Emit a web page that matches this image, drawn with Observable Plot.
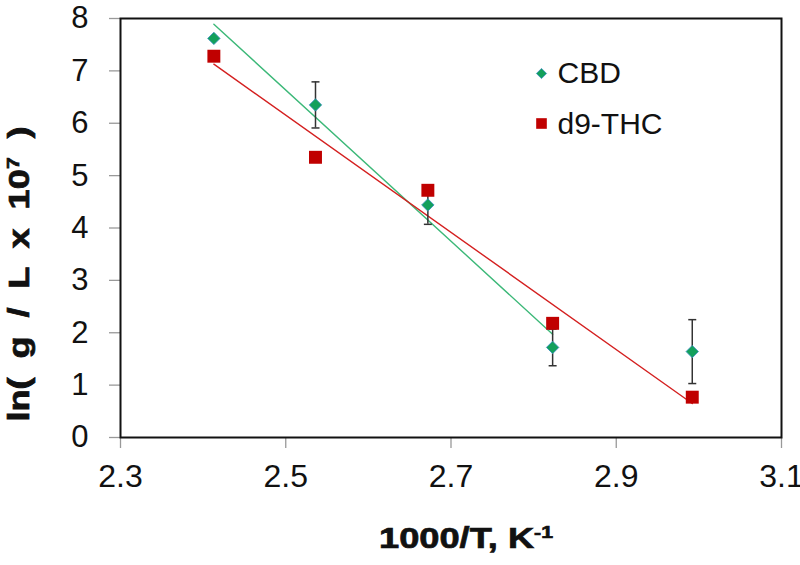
<!DOCTYPE html>
<html>
<head>
<meta charset="utf-8">
<script src="https://cdn.jsdelivr.net/npm/d3@7"></script>
<script src="https://cdn.jsdelivr.net/npm/@observablehq/plot@0.6"></script>
<style>
  html, body { margin: 0; padding: 0; background: #fff; }
  #chart { position: relative; width: 800px; height: 565px; overflow: hidden; }
</style>
</head>
<body>
<div id="chart"></div>
<script>
// ---- data ----
const xTicks = [2.3, 2.5, 2.7, 2.9, 3.1];
const yTicks = [0, 1, 2, 3, 4, 5, 6, 7, 8];
const invT = [2.413, 2.536, 2.672, 2.823, 2.992];          // 1000/T, K^-1
const cbd = [7.62, 6.35, 4.44, 1.72, 1.64];                 // CBD ln(g/L x 10^7)
const cbdErr = [0, 0.44, 0.37, 0.35, 0.61];                 // CBD error half-widths
const thc = [7.28, 5.35, 4.72, 2.18, 0.77];                 // d9-THC ln(g/L x 10^7)
const cbdFitPoints = 4;                                     // CBD trend fitted on first 4 points
const seriesNames = ["CBD", "d9-THC"];

const cbdRows = invT.map((t, i) => ({t, v: cbd[i], e: cbdErr[i]}));
const thcRows = invT.map((t, i) => ({t, v: thc[i]}));
const cbdFit = cbdRows.slice(0, cbdFitPoints);
const errRows = cbdRows.filter(d => d.e > 0);

const green = "#13a05b", greenEdge = "#3a8fc0", greenLine = "#3cb878";
const red = "#c00000", redLine = "#d42020";

const capSymbol = {
  draw(context, size) {
    const r = Math.sqrt(size / Math.PI);
    context.moveTo(-r, 0);
    context.lineTo(r, 0);
  }
};

const tickFont = "Liberation Sans, Arial, sans-serif";

const plot = Plot.plot({
  width: 800,
  height: 565,
  marginLeft: 120,
  marginRight: 19,
  marginTop: 18,
  marginBottom: 128,
  style: {fontFamily: tickFont, background: "#fff"},
  x: {domain: [2.3, 3.1]},
  y: {domain: [0, 8]},
  marks: [
    Plot.axisX(xTicks, {tickSize: 11, tickPadding: 16, fontSize: 32, fontFamily: tickFont, stroke: "#999", strokeWidth: 1.3, fill: "#111", label: null, tickFormat: d => d.toFixed(1)}),
    Plot.axisY(yTicks, {tickSize: 11, tickPadding: 21, fontSize: 31, fontFamily: tickFont, stroke: "#999", strokeWidth: 1.3, fill: "#111", label: null, tickFormat: d => String(d)}),
    Plot.linearRegressionY(cbdFit, {x: "t", y: "v", stroke: greenLine, strokeWidth: 1.4, ci: 0}),
    Plot.linearRegressionY(thcRows, {x: "t", y: "v", stroke: redLine, strokeWidth: 1.4, ci: 0}),
    Plot.ruleX(errRows, {x: "t", y1: d => d.v - d.e, y2: d => d.v + d.e, stroke: "#333", strokeWidth: 1.5}),
    Plot.dot(errRows, {x: "t", y: d => d.v - d.e, symbol: capSymbol, r: 4, stroke: "#333", fill: "none", strokeWidth: 1.5}),
    Plot.dot(errRows, {x: "t", y: d => d.v + d.e, symbol: capSymbol, r: 4, stroke: "#333", fill: "none", strokeWidth: 1.5}),
    Plot.dot(cbdRows, {x: "t", y: "v", symbol: "diamond2", r: 5.6, fill: green, stroke: greenEdge, strokeWidth: 0.8}),
    Plot.dot(thcRows, {x: "t", y: "v", symbol: "square", r: 7.3, fill: red, stroke: "none"}),
    Plot.frame({stroke: "#111", strokeWidth: 2}),
    // legend
    Plot.dot([seriesNames[0]], {frameAnchor: "top-left", dx: 421, dy: 55, symbol: "diamond2", r: 4.6, fill: green, stroke: greenEdge, strokeWidth: 0.8}),
    Plot.dot([seriesNames[1]], {frameAnchor: "top-left", dx: 421, dy: 105, symbol: "square", r: 6, fill: red}),
    Plot.text([seriesNames[0]], {text: d => d, frameAnchor: "top-left", dx: 437, dy: 55, textAnchor: "start", lineAnchor: "middle", fontSize: 30, fontFamily: tickFont, fill: "#111"}),
    Plot.text([seriesNames[1]], {text: d => d, frameAnchor: "top-left", dx: 437, dy: 106, textAnchor: "start", lineAnchor: "middle", fontSize: 30, fontFamily: tickFont, fill: "#111"})
  ]
});

document.getElementById("chart").appendChild(plot);

// axis titles with superscripts (bold, horizontally widened like the reference)
const svg = d3.select(plot);
const titleFont = "Liberation Sans, Arial, sans-serif";

const xt = svg.append("text")
  .attr("transform", "translate(466,548) scale(1.25,1)")
  .attr("text-anchor", "middle")
  .attr("font-family", titleFont).attr("font-weight", "bold").attr("font-size", 29)
  .attr("fill", "#111").attr("stroke", "#111").attr("stroke-width", 0.7);
xt.append("tspan").text("1000/T, K");
xt.append("tspan").attr("dy", -10).attr("font-size", 17).text("-1");

const yt = svg.append("text")
  .attr("transform", "translate(29,274) rotate(-90) scale(1.25,1)")
  .attr("text-anchor", "middle")
  .attr("font-family", titleFont).attr("font-weight", "bold").attr("font-size", 29)
  .attr("word-spacing", 7)
  .attr("fill", "#111").attr("stroke", "#111").attr("stroke-width", 0.7);
yt.append("tspan").text("ln( g / L x 10");
yt.append("tspan").attr("dy", -10).attr("font-size", 17).text("7");
yt.append("tspan").attr("dy", 10).text(" )");
</script>
</body>
</html>
